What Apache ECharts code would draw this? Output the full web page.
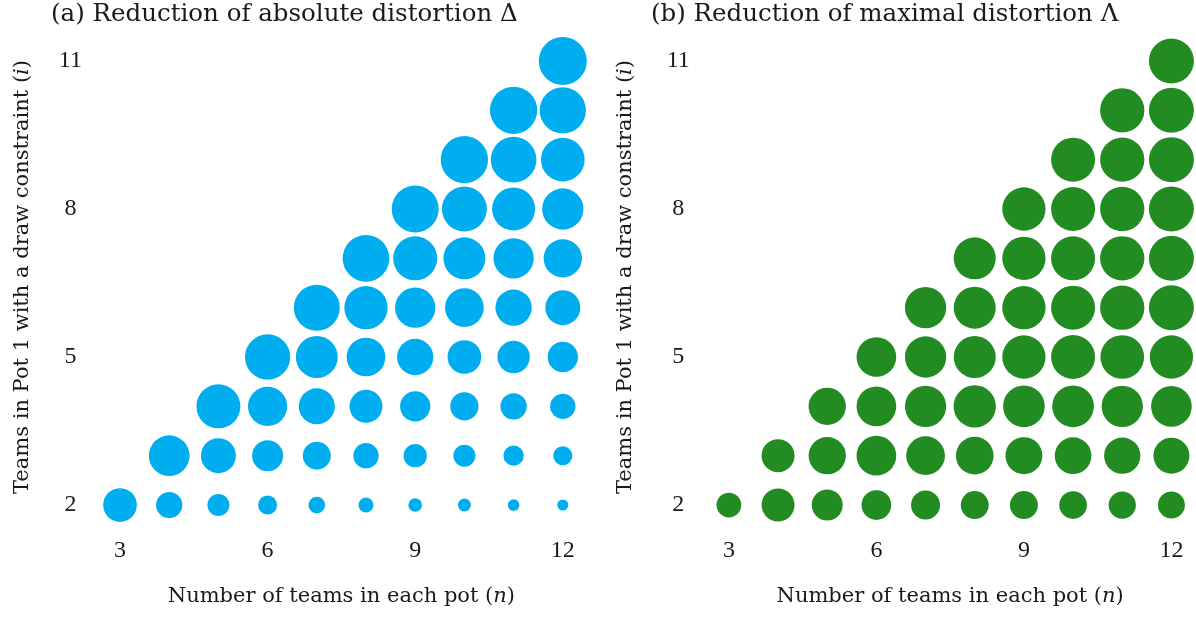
<!DOCTYPE html>
<html>
<head>
<meta charset="utf-8">
<script src="https://cdn.jsdelivr.net/npm/echarts@6/dist/echarts.min.js"></script>
<style>
html,body{margin:0;padding:0;background:#fff;}
#chart{width:1196px;height:619px;}
</style>
</head>
<body>
<div id="chart"></div>
<script>
// Teams in Pot 1 with a draw constraint (rows), each row lists values for n = i+1 .. 12
const teamsPerPot = [3, 4, 5, 6, 7, 8, 9, 10, 11, 12];
const constrainedTeams = [2, 3, 4, 5, 6, 7, 8, 9, 10, 11];
const xTicks = [3, 6, 9, 12];
const yTicks = [2, 5, 8, 11];

// (a) Reduction of absolute distortion (relative units)
const absoluteReduction = [
  [49.3, 30.0, 21.0, 15.7, 12.1, 9.8, 8.1, 7.3, 5.9, 5.3],   // i = 2
  [71.9, 53.2, 41.7, 34.0, 27.8, 23.6, 21.0, 17.9, 15.7],    // i = 3
  [84.0, 67.0, 56.3, 47.3, 39.8, 34.8, 30.0, 27.8],          // i = 4
  [89.1, 76.6, 65.0, 57.2, 49.3, 45.3, 39.8],                // i = 5
  [91.8, 81.4, 70.5, 65.0, 57.2, 53.2],                      // i = 6
  [94.7, 84.0, 76.6, 70.5, 63.7],                            // i = 7
  [95.9, 87.9, 80.3, 74.0],                                  // i = 8
  [97.1, 90.6, 82.9],                                        // i = 9
  [97.1, 93.0],                                              // i = 10
  [100]                                                      // i = 11
];

// (b) Reduction of maximal distortion (relative units)
const maximalReduction = [
  [26.5, 47.3, 41.7, 38.3, 36.5, 34.0, 34.0, 33.3, 32.3, 31.6],
  [47.3, 60.4, 68.4, 65.0, 61.7, 59.4, 58.5, 57.2, 56.3],
  [60.4, 68.4, 74.0, 77.7, 75.5, 75.5, 74.0, 71.9],
  [68.4, 74.0, 76.6, 81.4, 84.0, 82.9, 81.4],
  [74.0, 76.6, 81.4, 84.0, 85.2, 87.9],
  [76.6, 81.4, 84.0, 85.2, 87.9],
  [81.4, 84.0, 85.2, 87.9],
  [84.0, 85.2, 87.9],
  [85.2, 87.9],
  [87.9]
];

function buildPoints(rows) {
  const pts = [];
  rows.forEach((row, r) => {
    const i = constrainedTeams[r];
    row.forEach((v, k) => {
      const n = teamsPerPot[teamsPerPot.indexOf(i + 1) + k];
      pts.push([n, i, v]);
    });
  });
  return pts;
}

const FONT = 'DejaVu Serif';
const TICKFONT = 'Liberation Serif';
const TXT = '#1a1a1a';
const chart = echarts.init(document.getElementById('chart'), null, {renderer: 'canvas'});

function xAxisFor(idx) {
  return {
    gridIndex: idx, type: 'value', min: 2.5, max: 12.5,
    axisLine: {show: false}, axisTick: {show: false}, splitLine: {show: false},
    axisLabel: {customValues: xTicks, color: TXT, fontFamily: TICKFONT, fontSize: 24, margin: 9},
    name: 'Number of teams in each pot ({it|n})', nameLocation: 'middle', nameGap: 56,
    nameTextStyle: {color: TXT, fontFamily: FONT, fontSize: 21,
      rich: {it: {fontStyle: 'italic', fontFamily: FONT, fontSize: 21, color: TXT}}}
  };
}
function yAxisFor(idx, tickMargin, gap) {
  return {
    gridIndex: idx, type: 'value', min: 1.5, max: 11.5,
    axisLine: {show: false}, axisTick: {show: false}, splitLine: {show: false},
    axisLabel: {customValues: yTicks, color: TXT, fontFamily: TICKFONT, fontSize: 24, margin: tickMargin, align: 'center'},
    name: 'Teams in Pot 1 with a draw constraint ({it|i})', nameLocation: 'middle', nameGap: gap, nameRotate: 90,
    nameTextStyle: {color: TXT, fontFamily: FONT, fontSize: 21, padding: [0, 0, 0, 12],
      rich: {it: {fontStyle: 'italic', fontFamily: FONT, fontSize: 21, color: TXT}}}
  };
}

const sizeOf = (val) => 48 * Math.sqrt(val[2] / 100);

chart.setOption({
  backgroundColor: '#fff',
  animation: false,
  title: [
    {text: '(a) Reduction of absolute distortion Δ', left: 46, top: -3,
     textStyle: {fontFamily: FONT, fontSize: 24.5, fontWeight: 'normal', color: TXT}},
    {text: '(b) Reduction of maximal distortion Λ', left: 646, top: -3,
     textStyle: {fontFamily: FONT, fontSize: 24.5, fontWeight: 'normal', color: TXT}}
  ],
  grid: [
    {left: 95.4, top: 36.3, width: 492, height: 493.4},
    {left: 704.3, top: 36.3, width: 493.3, height: 493.4}
  ],
  xAxis: [xAxisFor(0), xAxisFor(1)],
  yAxis: [yAxisFor(0, 25, 62), yAxisFor(1, 26, 68)],
  series: [
    {type: 'scatter', xAxisIndex: 0, yAxisIndex: 0, clip: false,
     data: buildPoints(absoluteReduction), symbolSize: sizeOf,
     itemStyle: {color: '#00AEEF', opacity: 1}},
    {type: 'scatter', xAxisIndex: 1, yAxisIndex: 1, clip: false,
     data: buildPoints(maximalReduction), symbolSize: sizeOf,
     itemStyle: {color: '#228B22', opacity: 1}}
  ]
});
</script>
</body>
</html>
